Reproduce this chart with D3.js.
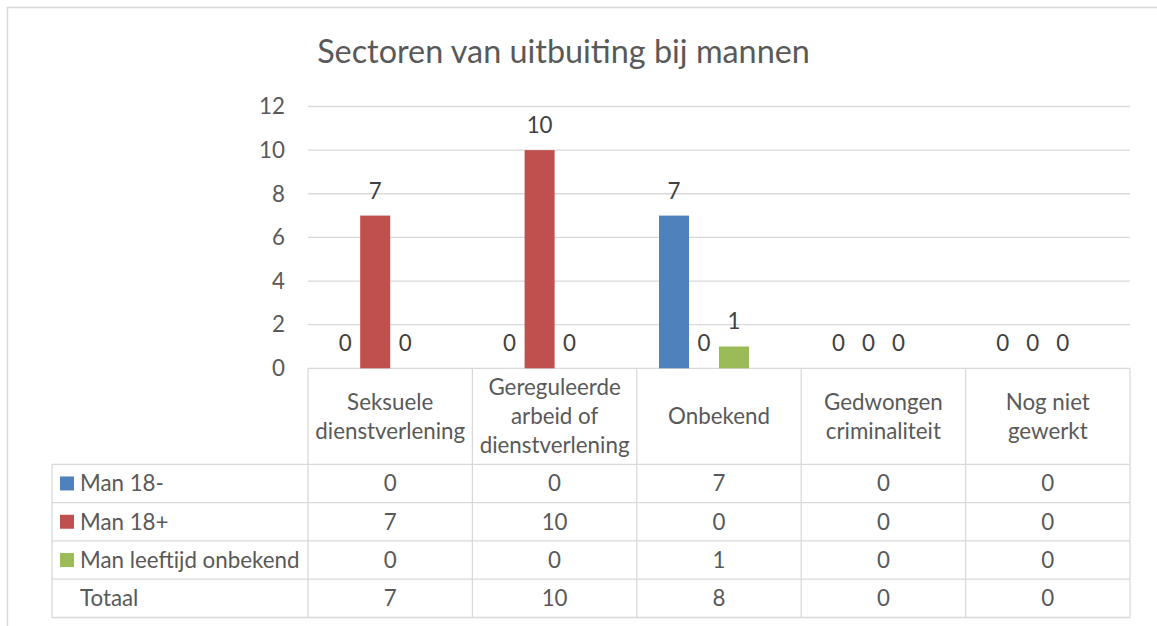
<!DOCTYPE html>
<html>
<head>
<meta charset="utf-8">
<script src="https://cdn.jsdelivr.net/npm/d3@7"></script>
<style>
  body { margin: 0; background: #fff; }
  text { font-family: Lato, "Open Sans", sans-serif; }
</style>
</head>
<body>
<div id="chart"></div>
<script>
const width = 1157;
const height = 626;

// data
const categories = ["Seksuele dienstverlening", "Gereguleerde arbeid of dienstverlening", "Onbekend", "Gedwongen criminaliteit", "Nog niet gewerkt"];
const seriesNames = ["Man 18-", "Man 18+", "Man leeftijd onbekend"];
const man18min = [0, 0, 7, 0, 0];
const man18plus = [7, 10, 0, 0, 0];
const manOnbekend = [0, 0, 1, 0, 0];
const totaal = [7, 10, 8, 0, 0];
const yTicks = [0, 2, 4, 6, 8, 10, 12];
const colors = ["#4f81bd", "#c0504d", "#9bbb59"];

const seriesValues = [man18min, man18plus, manOnbekend];

const plotLeft = 308, plotRight = 1130;
const plotTop = 106.5, plotBottom = 368.3;
const tableLeft = 52;
const headerBottom = 464.3;
const rowH = 38.3;
const gridColor = "#d9d9d9";
const textColor = "#595959";
const labelColor = "#404040";

var svg = d3.select("#chart").append("svg")
    .attr("width", width)
    .attr("height", height);

// outer frame (left and top edges only visible)
svg.append("path")
    .attr("d", `M7.5,${height} V7.5 H${width}`)
    .attr("fill", "none")
    .attr("stroke", gridColor)
    .attr("stroke-width", 1.5);

// helper: font size so a text gets a wanted width
function fitSize(str, target, base) {
    const t = svg.append("text").style("font-size", base + "px").text(str);
    const w = t.node().getComputedTextLength();
    t.remove();
    return base * target / w;
}

const titleSize = fitSize("Sectoren van uitbuiting bij mannen", 493, 30);
const smallSize = fitSize("dienstverlening", 150, 19);

svg.append("text")
    .attr("x", 563.5)
    .attr("y", 63)
    .attr("text-anchor", "middle")
    .style("font-size", titleSize + "px")
    .style("fill", textColor)
    .text("Sectoren van uitbuiting bij mannen");

const y = d3.scaleLinear()
    .domain([0, 12])
    .range([plotBottom, plotTop]);

const x = d3.scaleBand()
    .domain(categories)
    .range([plotLeft, plotRight]);

// bars sit a bit left of the category centre, like the original
const groupW = 90;
const groupShift = -15;
const xs = d3.scaleBand()
    .domain(seriesNames)
    .range([0, groupW]);

// gridlines
svg.append("g")
    .selectAll("line")
    .data(yTicks)
    .join("line")
    .attr("x1", plotLeft)
    .attr("x2", plotRight)
    .attr("y1", d => y(d))
    .attr("y2", d => y(d))
    .attr("stroke", gridColor)
    .attr("stroke-width", 1.3);

// y axis labels
svg.append("g")
    .selectAll("text")
    .data(yTicks)
    .join("text")
    .attr("x", 285)
    .attr("y", d => y(d))
    .attr("dy", "0.35em")
    .attr("text-anchor", "end")
    .style("font-size", smallSize + "px")
    .style("fill", textColor)
    .text(d => d);

// bars + labels
const flat = [];
categories.forEach((c, i) => {
    seriesNames.forEach((s, j) => {
        flat.push({ cat: c, series: s, value: seriesValues[j][i], color: colors[j] });
    });
});
const barX = d => x(d.cat) + (x.bandwidth() - groupW) / 2 + groupShift + xs(d.series);

svg.append("g")
    .selectAll("rect")
    .data(flat.filter(d => d.value > 0))
    .join("rect")
    .attr("x", barX)
    .attr("y", d => y(d.value))
    .attr("width", xs.bandwidth())
    .attr("height", d => y(0) - y(d.value))
    .attr("fill", d => d.color);

svg.append("g")
    .selectAll("text")
    .data(flat)
    .join("text")
    .attr("x", d => barX(d) + xs.bandwidth() / 2)
    .attr("y", d => y(d.value) - 17)
    .attr("text-anchor", "middle")
    .style("font-size", smallSize + "px")
    .style("fill", labelColor)
    .text(d => d.value);

// data table
const table = svg.append("g");
const tableBottom = headerBottom + rowH * 4;

// horizontal lines
const hLines = d3.range(5).map(i => headerBottom + i * rowH);
table.selectAll("line.h")
    .data(hLines)
    .join("line")
    .attr("class", "h")
    .attr("x1", tableLeft)
    .attr("x2", plotRight)
    .attr("y1", d => d)
    .attr("y2", d => d)
    .attr("stroke", gridColor)
    .attr("stroke-width", 1.3);

// vertical lines
const vLines = categories.map(c => x(c)).concat([plotRight]);
table.selectAll("line.v")
    .data(vLines)
    .join("line")
    .attr("class", "v")
    .attr("x1", d => d)
    .attr("x2", d => d)
    .attr("y1", plotBottom)
    .attr("y2", tableBottom)
    .attr("stroke", gridColor)
    .attr("stroke-width", 1.3);

table.append("line")
    .attr("x1", tableLeft).attr("x2", tableLeft)
    .attr("y1", headerBottom).attr("y2", tableBottom)
    .attr("stroke", gridColor)
    .attr("stroke-width", 1.3);

// header labels, wrapped like Excel does
function wrap(str, maxW) {
    const words = str.split(" ");
    const lines = [];
    let cur = "";
    const t = svg.append("text").style("font-size", smallSize + "px");
    words.forEach(w => {
        const test = cur ? cur + " " + w : w;
        t.text(test);
        if (t.node().getComputedTextLength() > maxW && cur) {
            lines.push(cur);
            cur = w;
        } else {
            cur = test;
        }
    });
    lines.push(cur);
    t.remove();
    return lines;
}

const lineH = 29;
categories.forEach(c => {
    const lines = wrap(c, 125);
    const cy = (plotBottom + headerBottom) / 2;
    const t = table.append("text")
        .attr("text-anchor", "middle")
        .style("font-size", smallSize + "px")
        .style("fill", textColor);
    lines.forEach((l, i) => {
        t.append("tspan")
            .attr("x", x(c) + x.bandwidth() / 2)
            .attr("y", cy + (i - (lines.length - 1) / 2) * lineH)
            .attr("dy", "0.35em")
            .text(l);
    });
});

// rows
const rowNames = seriesNames.concat(["Totaal"]);
const rowValues = seriesValues.concat([totaal]);
rowNames.forEach((name, r) => {
    const cy = headerBottom + r * rowH + rowH / 2;
    if (r < 3) {
        table.append("rect")
            .attr("x", 60)
            .attr("y", cy - 7)
            .attr("width", 14)
            .attr("height", 14)
            .attr("fill", colors[r]);
    }
    table.append("text")
        .attr("x", 80)
        .attr("y", cy)
        .attr("dy", "0.35em")
        .style("font-size", smallSize + "px")
        .style("fill", textColor)
        .text(name);
    table.selectAll(null)
        .data(rowValues[r])
        .join("text")
        .attr("x", (d, i) => x(categories[i]) + x.bandwidth() / 2)
        .attr("y", cy)
        .attr("dy", "0.35em")
        .attr("text-anchor", "middle")
        .style("font-size", smallSize + "px")
        .style("fill", textColor)
        .text(d => d);
});
</script>
</body>
</html>
